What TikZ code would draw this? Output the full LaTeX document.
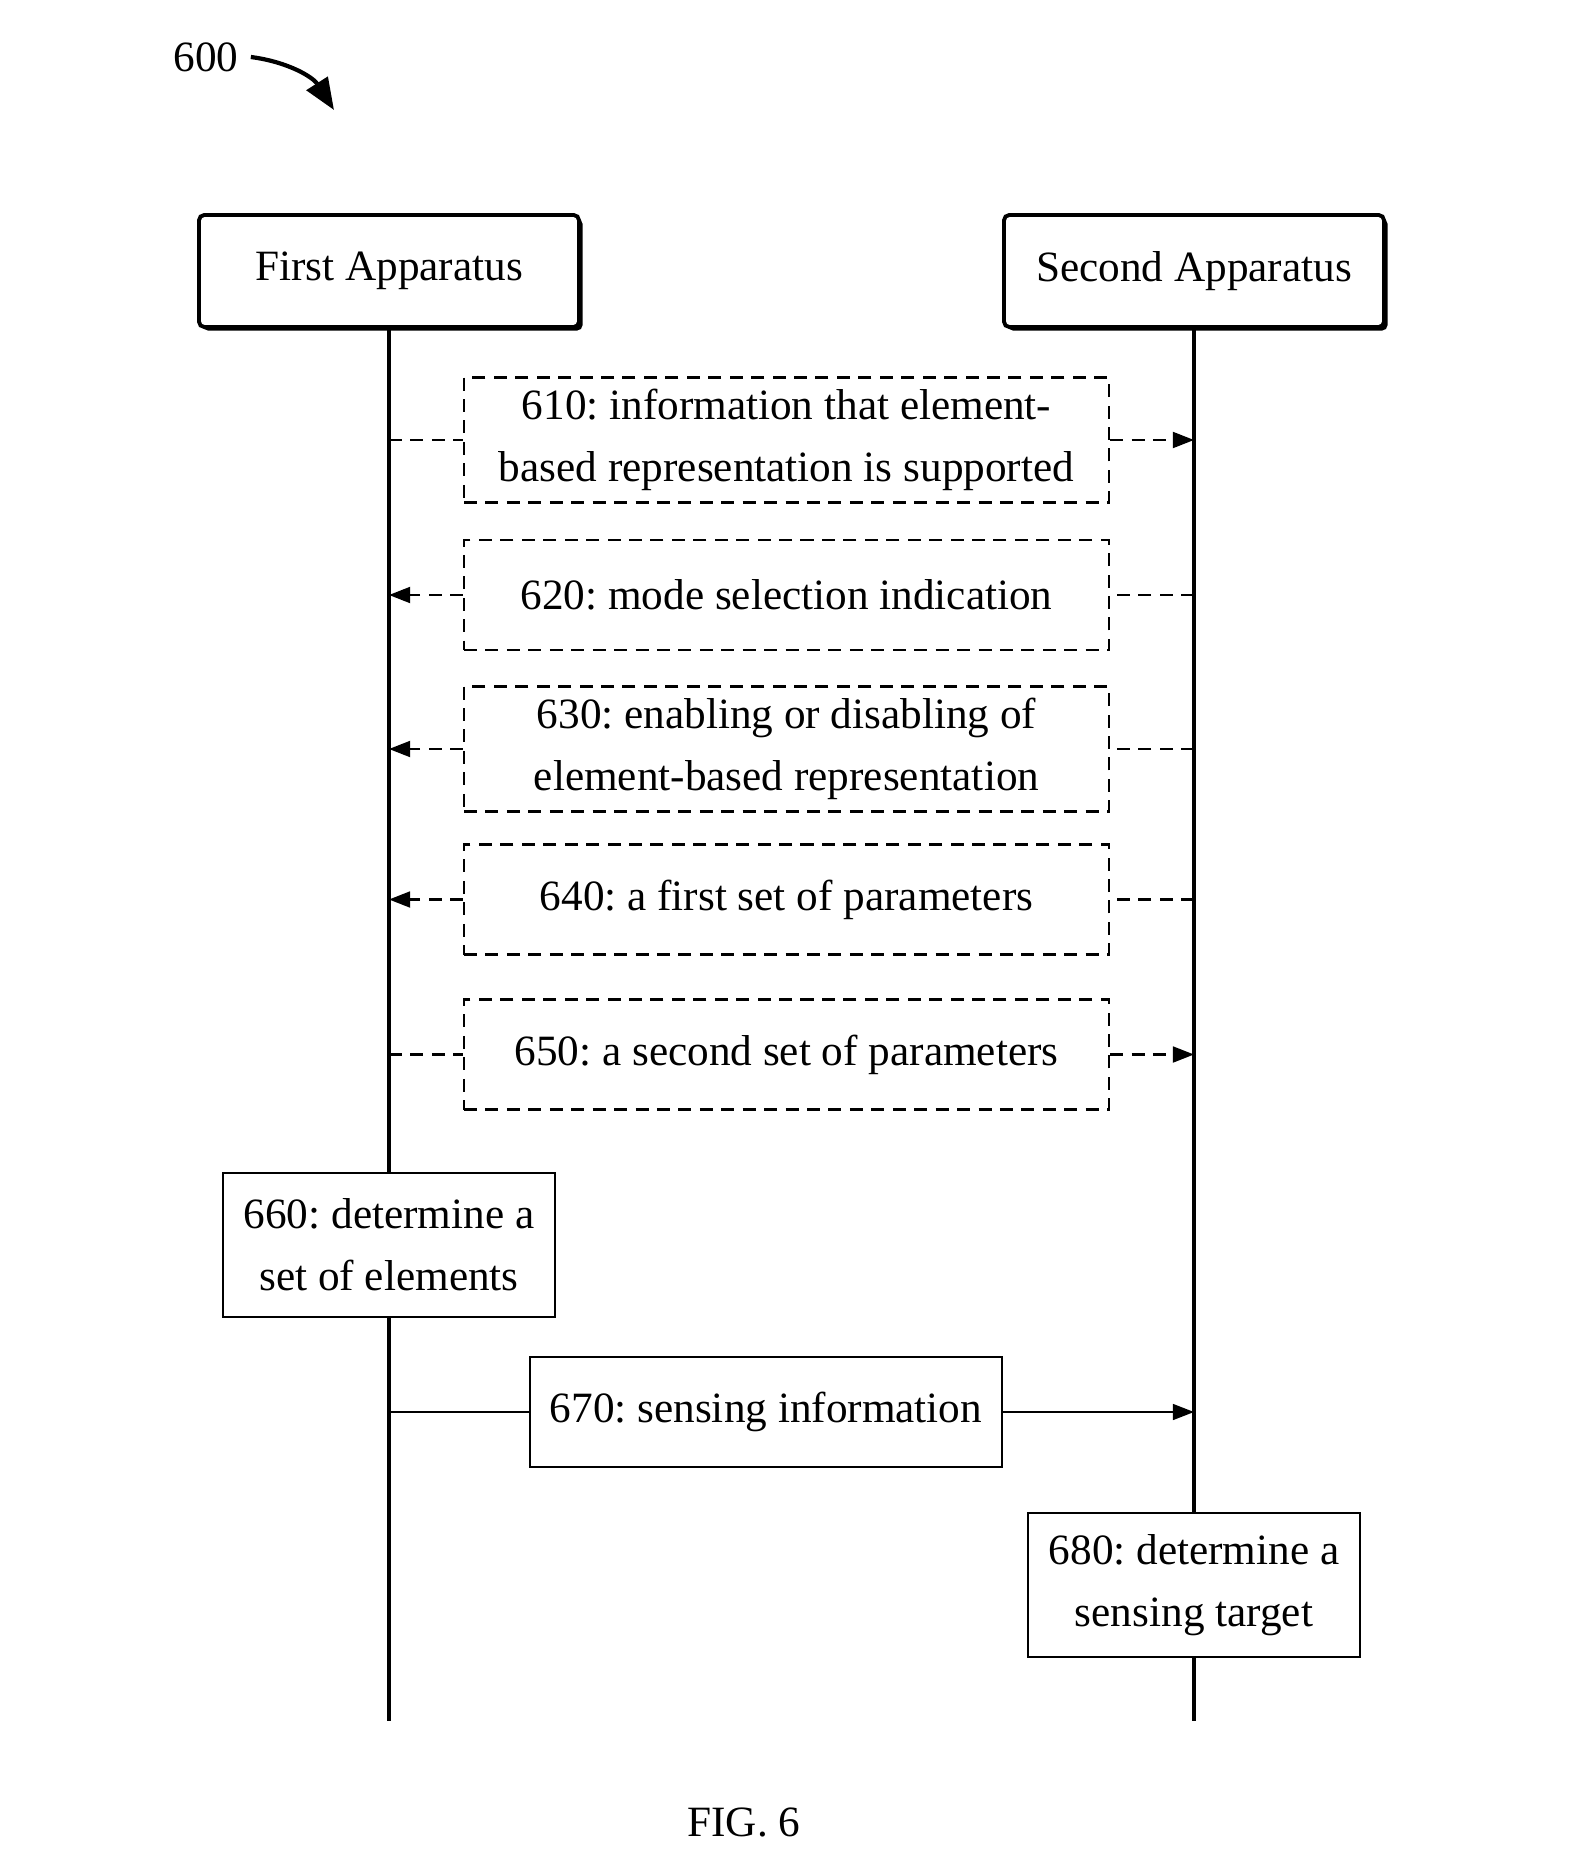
\documentclass[tikz,border=0pt]{standalone}
\usepackage{fontspec}
\setmainfont{Liberation Serif}
\usepackage{tikz}
\usetikzlibrary{arrows.meta,shadows}
\frenchspacing

\begin{document}
\begin{tikzpicture}[
		font=\fontsize{12.3}{17.6}\selectfont,
		>={Triangle[length=6pt,width=4.5pt]},
		party/.style={draw, line width=1.1pt, rounded corners=1.5pt, minimum width=3.8cm, minimum height=1.12cm,
			fill=white, drop shadow={shadow xshift=1pt, shadow yshift=-1pt, fill=black, opacity=1}},
		msgbox/.style={draw, dash pattern=on 3.7pt off 2.4pt, line width=0.6pt, minimum width=6.45cm, minimum height=1.1cm, align=center},
		stepbox/.style={draw, line width=0.6pt, align=center, minimum height=1.44cm, minimum width=3.32cm},
		msg/.style={dash pattern=on 3.7pt off 2.4pt, line width=0.7pt},
		life/.style={line width=0.9pt}
	]
			\useasboundingbox (0,0) rectangle (15.71,-18.71);
			\node (n600) at (2.06,-0.57) {600};
			\coordinate (c600) at (3.34,-1.10);
			\node (first) [party] at (3.89,-2.71) {First Apparatus};
			\node (second) [party] at (11.94,-2.71) {Second Apparatus};
			\node (m610) [msgbox] at (7.865,-4.40) {610: information that element-\\based representation is supported};
			\node (m620) [msgbox] at (7.865,-5.95) {620: mode selection indication};
			\node (m630) [msgbox] at (7.865,-7.49) {630: enabling or disabling of\\element-based representation};
			\node (m640) [msgbox] at (7.865,-8.995) {640: a first set of parameters};
			\node (m650) [msgbox] at (7.865,-10.545) {650: a second set of parameters};
			\node (s660) [stepbox] at (3.89,-12.45) {660: determine a\\set of elements};
			\node (m670) [stepbox, minimum width=4.72cm, minimum height=1.1cm] at (7.66,-14.12) {670: sensing information};
			\node (s680) [stepbox] at (11.94,-15.85) {680: determine a\\sensing target};
			\coordinate (end1) at (3.89,-17.21);
			\coordinate (end2) at (11.94,-17.21);
			\node (fig) at (7.44,-18.22) {FIG. 6};
			
			\path (n600.east) edge [ -{Triangle[length=9pt,width=7pt]}, line width=1.2pt, bend left=25 ] (c600);
			\path (first.south) edge [ life ] (s660.north);
			\path (s660.south) edge [ life ] (end1);
			\path (second.south) edge [ life ] (s680.north);
			\path (s680.south) edge [ life ] (end2);
			\path (first |- m610) edge [ msg ] (m610.west);
			\path (m610.east) edge [ msg, -> ] (second |- m610);
			\path (second |- m620) edge [ msg ] (m620.east);
			\path (m620.west) edge [ msg, -> ] (first |- m620);
			\path (second |- m630) edge [ msg ] (m630.east);
			\path (m630.west) edge [ msg, -> ] (first |- m630);
			\path (second |- m640) edge [ msg ] (m640.east);
			\path (m640.west) edge [ msg, -> ] (first |- m640);
			\path (first |- m650) edge [ msg ] (m650.west);
			\path (m650.east) edge [ msg, -> ] (second |- m650);
			\path (first |- m670) edge [ line width=0.6pt ] (m670.west);
			\path (m670.east) edge [ ->, line width=0.6pt ] (second |- m670);
\end{tikzpicture}
\end{document}
